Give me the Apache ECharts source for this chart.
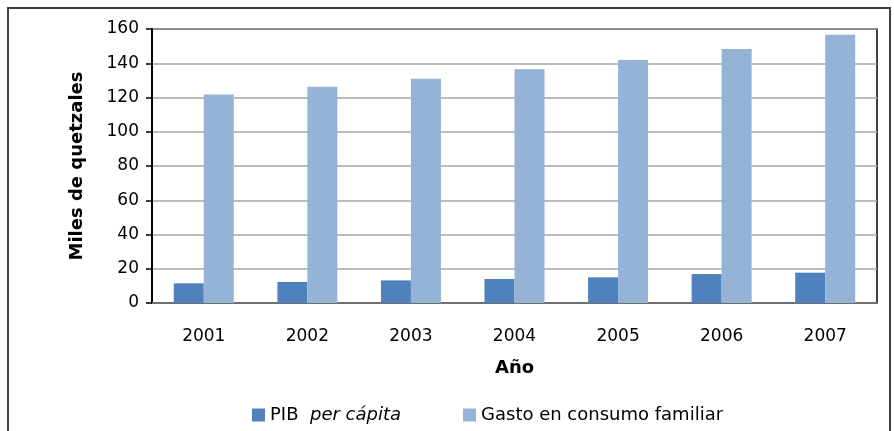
<!DOCTYPE html>
<html>
<head>
<meta charset="utf-8">
<script src="https://cdn.jsdelivr.net/npm/echarts@6/dist/echarts.min.js"></script>
<style>
  html, body { margin: 0; padding: 0; background: #fff; }
  #chart { width: 894px; height: 431px; }
</style>
</head>
<body>
<div id="chart"></div>
<script>
const years = ["2001", "2002", "2003", "2004", "2005", "2006", "2007"];
const pibPerCapita = [11.5, 12.3, 13.2, 14.0, 15.0, 16.9, 17.7];
const gastoConsumo = [121.8, 126.3, 131.0, 136.5, 141.9, 148.3, 156.7];
const yTicks = [0, 20, 40, 60, 80, 100, 120, 140, 160];

const chart = echarts.init(document.getElementById("chart"), null, { renderer: "canvas" });

const font = "DejaVu Sans";

const option = {
  backgroundColor: "#fff",
  animation: false,
  textStyle: { fontFamily: font, color: "#000" },
  graphic: [
    {
      type: "rect",
      shape: { x: 8, y: 8, width: 882, height: 440 },
      style: { fill: null, stroke: "#404040", lineWidth: 2 },
      silent: true
    }
  ],
  grid: {
    left: 152, right: 17, top: 29, bottom: 128,
    show: true, borderColor: "#000", borderWidth: 1.5
  },
  legend: {
    left: 247, top: 401,
    itemWidth: 13, itemHeight: 13, itemGap: 62,
    icon: "rect",
    textStyle: {
      fontFamily: font, fontSize: 18, color: "#000",
      rich: { i: { fontFamily: font, fontSize: 18, fontStyle: "italic", color: "#000" } }
    },
    formatter: (name) => name === "PIB per cápita" ? "PIB  {i|per cápita}" : name,
    data: ["PIB per cápita", "Gasto en consumo familiar"]
  },
  xAxis: {
    type: "category",
    data: years,
    name: "Año",
    nameLocation: "middle",
    nameGap: 56,
    nameTextStyle: { fontFamily: font, fontSize: 18, fontWeight: "bold", color: "#000" },
    axisLine: { lineStyle: { color: "#6f6f6f", width: 2 } },
    axisTick: { show: false },
    axisLabel: { margin: 25, fontFamily: font, fontSize: 17, color: "#000" }
  },
  yAxis: {
    type: "value",
    min: 0, max: 160, interval: 20,
    name: "Miles de quetzales",
    nameLocation: "middle",
    nameGap: 66,
    nameTextStyle: { fontFamily: font, fontSize: 18, fontWeight: "bold", color: "#000" },
    axisLine: { show: true, lineStyle: { color: "#000", width: 2 } },
    axisTick: { show: true, length: 6, lineStyle: { color: "#000", width: 1.5 } },
    axisLabel: {
      margin: 13, fontFamily: font, fontSize: 17, color: "#000",
      formatter: (v) => yTicks.includes(v) ? String(v) : ""
    },
    splitLine: { lineStyle: { color: "#a6a6a6", width: 1.5 } }
  },
  series: [
    {
      name: "PIB per cápita",
      type: "bar",
      data: pibPerCapita,
      barWidth: 30,
      barGap: "0%",
      itemStyle: { color: "#4f81bd" }
    },
    {
      name: "Gasto en consumo familiar",
      type: "bar",
      data: gastoConsumo,
      barWidth: 30,
      barGap: "0%",
      itemStyle: { color: "#95b3d7" }
    }
  ]
};

chart.setOption(option);
</script>
</body>
</html>
